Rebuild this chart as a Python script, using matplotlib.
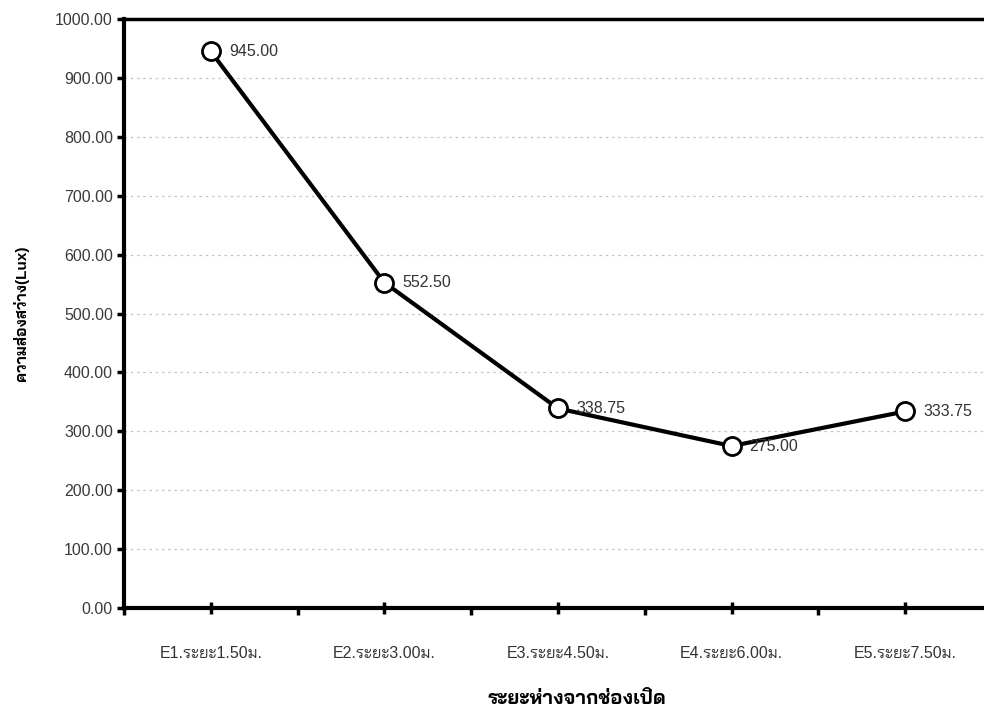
import matplotlib
matplotlib.use("Agg")
import matplotlib.pyplot as plt
from matplotlib import font_manager

# measurement points and average illuminance
points = ["E1.ระยะ1.50ม.", "E2.ระยะ3.00ม.", "E3.ระยะ4.50ม.", "E4.ระยะ6.00ม.", "E5.ระยะ7.50ม."]
lux = [945.00, 552.50, 338.75, 275.00, 333.75]
yticks = [0, 100, 200, 300, 400, 500, 600, 700, 800, 900, 1000]

xlabel = "ระยะห่างจากช่องเปิด"
ylabel = "ความส่องสว่าง(Lux)"

# Latin text in an Arial-like face, Thai falls back to a Thai family
installed = {f.name for f in font_manager.fontManager.ttflist}
thai = [n for n in ["Bai Jamjuree", "Chakra Petch", "Anuphan"] if n in installed][:1]
plt.rcParams["font.family"] = ["Liberation Sans"] + thai + ["DejaVu Sans"]

fig = plt.figure(figsize=(9.84, 7.14), dpi=100)
ax = fig.add_axes([124 / 984, 1 - 608 / 714, 868 / 984, 589 / 714])

x = list(range(len(points)))
ax.plot(x, lux, color="black", lw=3, marker="o", ms=13,
        mfc="white", mec="black", mew=2, zorder=3)
for xi, v in zip(x, lux):
    ax.annotate(f"{v:.2f}", (xi, v), xytext=(13, 0), textcoords="offset points",
                ha="left", va="center", fontsize=11.5, color="#333333")

ax.set_xlim(-0.5, len(points) - 0.5)
ax.set_ylim(0, 1000)
ax.set_yticks(yticks)
ax.set_yticklabels([f"{t:.2f}" for t in yticks], fontsize=11.5, color="#3a3a3a")

# category labels at the centres, boundary ticks between them
ax.set_xticks(x)
ax.set_xticklabels(points, fontsize=11.5, color="#333333")
ax.set_xticks([i - 0.5 for i in range(len(points) + 1)], minor=True)
ax.tick_params(axis="x", which="major", direction="inout", length=8, width=2.5, pad=23)
ax.tick_params(axis="x", which="minor", direction="out", length=5, width=2.5)
ax.tick_params(axis="y", direction="out", length=5, width=2.5, pad=3)

for t in yticks[1:-1]:
    ax.axhline(t, color="#c4c4c4", lw=0.9, ls=(0, (2, 3)), zorder=1)

for side in ["left", "bottom"]:
    ax.spines[side].set_linewidth(3)
ax.spines["top"].set_linewidth(2.5)
ax.spines["right"].set_visible(False)

fig.text(21 / 984, 1 - 313 / 714, ylabel, rotation=90, ha="center", va="center",
         fontsize=11, fontweight="bold")
fig.text(577 / 984, 1 - 700 / 714, xlabel, ha="center", va="center",
         fontsize=14, fontweight="bold")

fig.savefig("out.png", dpi=100)
